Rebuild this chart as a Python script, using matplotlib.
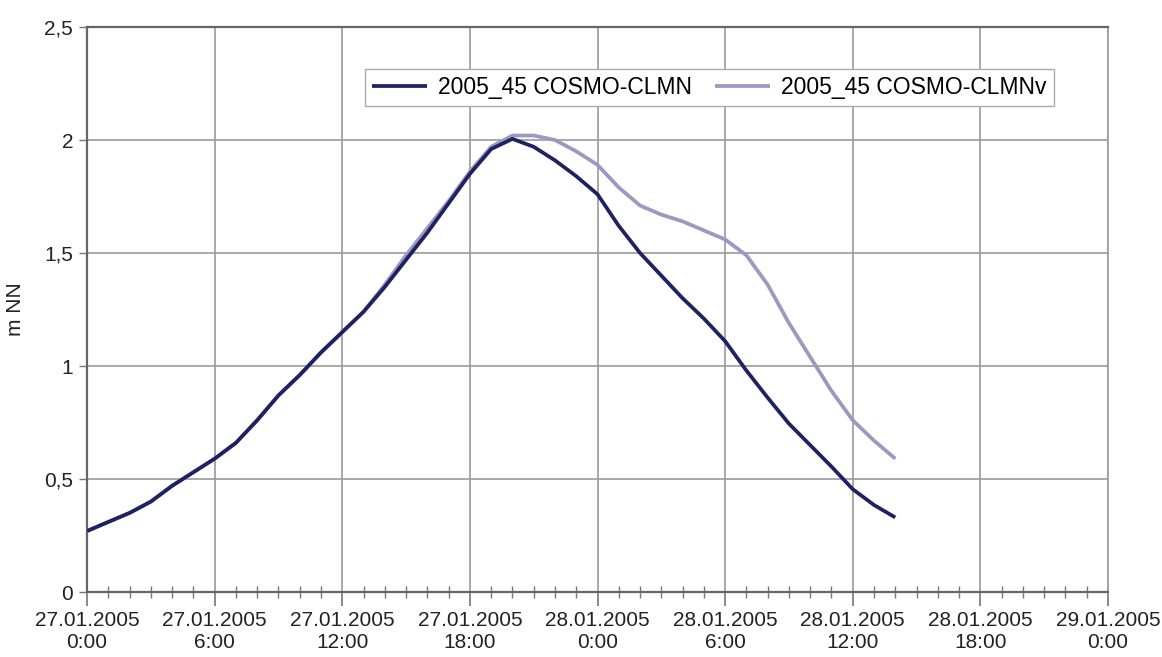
import matplotlib
matplotlib.use("Agg")
import matplotlib.pyplot as plt
from matplotlib.ticker import MultipleLocator

plt.rcParams['font.family'] = ['Liberation Sans', 'DejaVu Sans']

# hours since 27.01.2005 0:00
hours = list(range(0, 39))
clmn = [0.27, 0.31, 0.35, 0.40, 0.47, 0.53, 0.59, 0.66, 0.76, 0.87,
        0.96, 1.06, 1.15, 1.24, 1.35, 1.47, 1.59, 1.72, 1.85, 1.96,
        2.005, 1.97, 1.91, 1.84, 1.76, 1.62, 1.50, 1.40, 1.30, 1.21,
        1.11, 0.98, 0.86, 0.745, 0.65, 0.555, 0.455, 0.385, 0.33]
clmnv = [0.27, 0.31, 0.35, 0.40, 0.47, 0.53, 0.59, 0.66, 0.76, 0.87,
         0.96, 1.06, 1.15, 1.24, 1.36, 1.49, 1.61, 1.73, 1.86, 1.97,
         2.02, 2.02, 2.00, 1.95, 1.89, 1.79, 1.71, 1.67, 1.64, 1.60,
         1.56, 1.49, 1.36, 1.19, 1.04, 0.89, 0.76, 0.67, 0.59]
series_names = ["2005_45 COSMO-CLMN", "2005_45 COSMO-CLMNv"]
x_tick_hours = [0, 6, 12, 18, 24, 30, 36, 42, 48]
x_tick_labels = ["27.01.2005\n0:00", "27.01.2005\n6:00", "27.01.2005\n12:00",
                 "27.01.2005\n18:00", "28.01.2005\n0:00", "28.01.2005\n6:00",
                 "28.01.2005\n12:00", "28.01.2005\n18:00", "29.01.2005\n0:00"]
y_ticks = [0, 0.5, 1, 1.5, 2, 2.5]
y_tick_labels = ["0", "0,5", "1", "1,5", "2", "2,5"]
y_label = "m NN"

fig = plt.figure(figsize=(11.62, 6.57), dpi=100)
ax = fig.add_axes([0.0749, 0.0989, 0.8786, 0.86])

ax.plot(hours, clmnv, color="#9b99c2", lw=2.7, solid_joinstyle="round",
        solid_capstyle="butt", zorder=3, label=series_names[1])
ax.plot(hours, clmn, color="#1f2262", lw=2.7, solid_joinstyle="round",
        solid_capstyle="butt", zorder=4, label=series_names[0])

ax.set_xlim(0, 48)
ax.set_ylim(0, 2.5)
ax.set_xticks(x_tick_hours)
ax.set_xticklabels(x_tick_labels, fontsize=15, color="#222222", linespacing=1.2)
ax.xaxis.set_minor_locator(MultipleLocator(1))
ax.set_yticks(y_ticks)
ax.set_yticklabels(y_tick_labels, fontsize=15, color="#222222")
ax.set_ylabel(y_label, fontsize=15, color="#222222", labelpad=14)

ax.grid(True, which="major", color="#9a9a9a", lw=1.2, zorder=0)
ax.set_axisbelow(True)

ax.tick_params(axis="x", which="major", direction="out", length=10, width=1.2,
               color="#777777", pad=4)
ax.tick_params(axis="x", which="minor", direction="inout", length=8, width=1.0,
               color="#777777")
ax.tick_params(axis="y", which="major", direction="out", length=6, width=1.0,
               color="#777777", pad=4)

for side in ["left", "bottom", "top"]:
    ax.spines[side].set_color("#666666")
    ax.spines[side].set_linewidth(1.6)
ax.spines["right"].set_color("#9a9a9a")
ax.spines["right"].set_linewidth(1.2)

handles, labels = ax.get_legend_handles_labels()
leg = ax.legend(handles[::-1], labels[::-1], ncol=2, loc="upper right",
                bbox_to_anchor=(0.947, 0.926), fontsize=16.5, frameon=True,
                fancybox=False, edgecolor="#aaaaaa", framealpha=1,
                handlelength=2.4, columnspacing=1.0, handletextpad=0.5,
                borderpad=0.3, borderaxespad=0)
leg.get_frame().set_linewidth(1.0)

fig.savefig("out.png", dpi=100, facecolor="white")
